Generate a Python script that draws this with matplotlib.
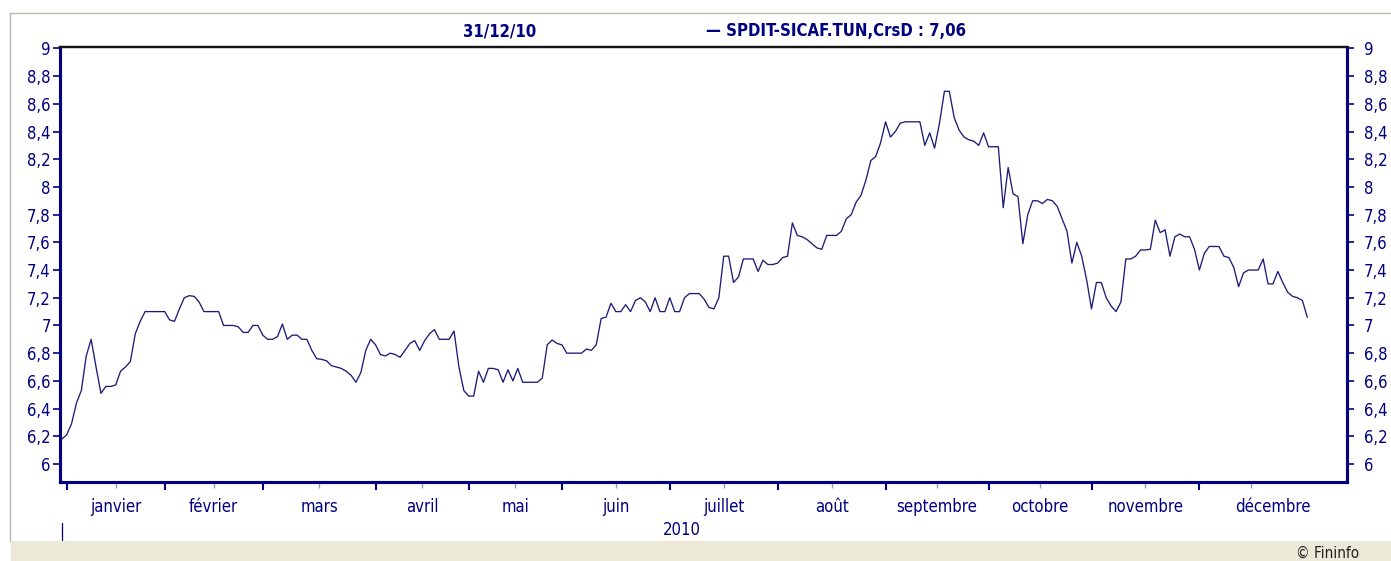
import os
import matplotlib
matplotlib.use("Agg")
import matplotlib.pyplot as plt
from matplotlib import font_manager
from matplotlib.font_manager import FontProperties
from matplotlib.ticker import FuncFormatter
import matplotlib.patches as mpatches
import numpy as np

# closing prices, one per trading day (31/12/09 .. 31/12/10)
prices = [
    6.18, 6.21, 6.29, 6.44, 6.53, 6.78, 6.90, 6.70, 6.51, 6.56,
    6.56, 6.57, 6.67, 6.70, 6.74, 6.94, 7.03, 7.10, 7.10, 7.10,
    7.10, 7.10, 7.04, 7.03, 7.12, 7.20, 7.215, 7.21, 7.17, 7.10,
    7.10, 7.10, 7.10, 7.00, 7.00, 7.00, 6.99, 6.95, 6.95, 7.00,
    7.00, 6.93, 6.90, 6.90, 6.92, 7.01, 6.90, 6.93, 6.93, 6.90,
    6.90, 6.82, 6.76, 6.755, 6.745, 6.71, 6.70, 6.69, 6.67, 6.64,
    6.59, 6.66, 6.82, 6.90, 6.86, 6.79, 6.78, 6.80, 6.79, 6.77,
    6.82, 6.87, 6.89, 6.82, 6.89, 6.94, 6.97, 6.90, 6.90, 6.90,
    6.96, 6.70, 6.53, 6.49, 6.49, 6.67, 6.59, 6.69, 6.69, 6.68,
    6.59, 6.68, 6.60, 6.69, 6.59, 6.59, 6.59, 6.59, 6.62, 6.86,
    6.895, 6.87, 6.86, 6.80, 6.80, 6.80, 6.80, 6.83, 6.82, 6.86,
    7.05, 7.06, 7.16, 7.10, 7.10, 7.15, 7.10, 7.18, 7.20, 7.17,
    7.10, 7.20, 7.10, 7.10, 7.20, 7.10, 7.10, 7.20, 7.23, 7.23,
    7.23, 7.19, 7.13, 7.12, 7.20, 7.50, 7.50, 7.31, 7.35, 7.48,
    7.48, 7.48, 7.39, 7.47, 7.44, 7.44, 7.45, 7.49, 7.50, 7.74,
    7.65, 7.64, 7.62, 7.59, 7.56, 7.55, 7.65, 7.65, 7.65, 7.68,
    7.77, 7.80, 7.89, 7.94, 8.05, 8.19, 8.22, 8.32, 8.47, 8.36,
    8.40, 8.46, 8.47, 8.47, 8.47, 8.47, 8.30, 8.39, 8.28, 8.46,
    8.69, 8.69, 8.50, 8.41, 8.36, 8.34, 8.33, 8.30, 8.39, 8.29,
    8.29, 8.29, 7.85, 8.14, 7.95, 7.93, 7.59, 7.80, 7.90, 7.90,
    7.88, 7.91, 7.90, 7.86, 7.77, 7.68, 7.45, 7.60, 7.50, 7.33,
    7.12, 7.31, 7.31, 7.20, 7.14, 7.10, 7.17, 7.48, 7.48, 7.50,
    7.545, 7.545, 7.55, 7.76, 7.67, 7.69, 7.50, 7.64, 7.66, 7.64,
    7.64, 7.55, 7.40, 7.52, 7.57, 7.57, 7.57, 7.50, 7.49, 7.42,
    7.28, 7.38, 7.40, 7.40, 7.40, 7.48, 7.30, 7.30, 7.39, 7.31,
    7.24, 7.21, 7.20, 7.18, 7.06,
]

months = ["janvier", "février", "mars", "avril", "mai", "juin", "juillet",
          "août", "septembre", "octobre", "novembre", "décembre"]
month_start = [1, 21, 41, 64, 83, 102, 124, 146, 168, 189, 210, 232]
last_day = 253
y_ticks = [6, 6.2, 6.4, 6.6, 6.8, 7, 7.2, 7.4, 7.6, 7.8, 8, 8.2, 8.4, 8.6, 8.8, 9]

title_date = "31/12/10"
legend_txt = "— SPDIT-SICAF.TUN,CrsD : 7,06"

navy = "#000080"
line_col = "#1c1c78"


# a narrow face looks closer to the original; fall back to plain DejaVu
def find_face(names):
    files = {os.path.basename(f.fname): f.fname for f in font_manager.fontManager.ttflist}
    for n in names:
        if n in files:
            return files[n]
    return None


reg_file = find_face(["LiberationSansNarrow-Regular.ttf", "DejaVuSansCondensed.ttf"])
bold_file = find_face(["LiberationSansNarrow-Bold.ttf", "DejaVuSansCondensed-Bold.ttf"])
fp = FontProperties(fname=reg_file, size=12) if reg_file else FontProperties(family="DejaVu Sans", size=12)
fpb = (FontProperties(fname=bold_file, size=12) if bold_file
       else FontProperties(family="DejaVu Sans", weight="bold", size=12))

W, H = 1391, 561
fig = plt.figure(figsize=(W / 100, H / 100), dpi=100)


def fx(px):
    return px / W


def fy(py):
    return 1 - py / H


# outer frame and beige status band
fig.add_artist(mpatches.Rectangle((fx(11), 0), 1, fy(541), transform=fig.transFigure,
                                  facecolor="#ece9d8", edgecolor="none"))
fig.add_artist(plt.Line2D([fx(10), 1], [fy(13), fy(13)], transform=fig.transFigure,
                          color="#b8b8b0", lw=1))
fig.add_artist(plt.Line2D([fx(10), fx(10)], [fy(13), fy(541)], transform=fig.transFigure,
                          color="#b8b8b0", lw=1))

left, right, top, bottom = 60.5, 1347, 47, 482
ax = fig.add_axes([fx(left), fy(bottom), fx(right - left), (bottom - top) / H])

x = np.arange(len(prices))
ax.plot(x, prices, color=line_col, lw=0.95)

xmax = 262.1
ax.set_xlim(-0.25, xmax)
ax.set_ylim(5.87, 9.01)

fmt = FuncFormatter(lambda v, p: f"{v:g}".replace(".", ","))
ax.set_yticks(y_ticks)
ax.yaxis.set_major_formatter(fmt)
ax.tick_params(axis="y", direction="out", length=5, width=1.2, color=navy,
               labelcolor=navy, pad=2)

ax2 = ax.twinx()
ax2.set_ylim(ax.get_ylim())
ax2.set_yticks(y_ticks)
ax2.yaxis.set_major_formatter(fmt)
ax2.tick_params(axis="y", direction="out", length=5, width=1.2, color=navy,
                labelcolor=navy, pad=7)
for lab in ax.get_yticklabels() + ax2.get_yticklabels():
    lab.set_fontproperties(fp)

# month ticks: major at month start, minor mid-month
ax.set_xticks(month_start)
ax.set_xticklabels([])
bounds = month_start + [last_day]
ax.set_xticks([(bounds[i] + bounds[i + 1]) / 2 for i in range(12)], minor=True)
ax.tick_params(axis="x", which="major", direction="out", length=6, width=1.5, color=navy)
ax.tick_params(axis="x", which="minor", direction="out", length=4, width=1, color="#9a9ab8")

lab_bounds = month_start + [xmax]
for i, m in enumerate(months):
    ax.text((lab_bounds[i] + lab_bounds[i + 1]) / 2, -25 / (bottom - top), m,
            transform=ax.get_xaxis_transform(), ha="center", va="center",
            color=navy, fontproperties=fp)

for a in (ax, ax2):
    for s in ("left", "right", "bottom"):
        a.spines[s].set_color(navy)
        a.spines[s].set_linewidth(2.2)
    a.spines["top"].set_color("#151515")
    a.spines["top"].set_linewidth(1.6)

fig.text(fx(500), fy(31), title_date, ha="center", va="center",
         color=navy, fontproperties=fpb)
fig.text(fx(706), fy(31), legend_txt, ha="left", va="center",
         color=navy, fontproperties=fpb)
fig.text(fx(682), fy(530), "2010", ha="center", va="center", color=navy, fontproperties=fp)
fig.text(fx(62), fy(532), "|", ha="center", va="center", color=navy, fontproperties=fp)
fig.text(fx(1328), fy(553), "© Fininfo", ha="center", va="center",
         color="#202020", fontproperties=FontProperties(fname=reg_file, size=11) if reg_file
         else FontProperties(family="DejaVu Sans", size=11))

fig.savefig("out.png", dpi=100, facecolor="white")
